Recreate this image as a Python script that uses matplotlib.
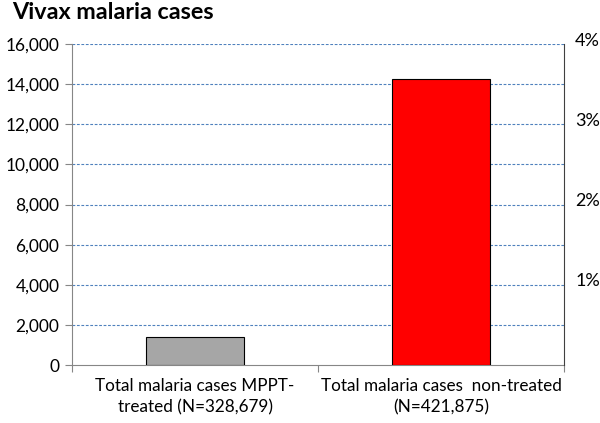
import numpy as np
import matplotlib.pyplot as plt
from matplotlib.ticker import FuncFormatter
import matplotlib.transforms as mtransforms

plt.rcParams['font.family'] = ['Lato', 'DejaVu Sans']

# Data
categories = ["Total malaria cases MPPT-\ntreated (N=328,679)",
              "Total malaria cases  non-treated\n(N=421,875)"]
cases = [1400, 14250]
bar_colors = ["#A6A6A6", "#FF0000"]
left_ticks = [0, 2000, 4000, 6000, 8000, 10000, 12000, 14000, 16000]
right_ticks = [1, 2, 3, 4]

fig = plt.figure(figsize=(6, 4.23), dpi=100)
ax = fig.add_axes([0.12, 0.137, 0.82, 0.759])

x = np.arange(len(categories))
ax.bar(x, cases, width=0.4, color=bar_colors, edgecolor="black", linewidth=0.8, zorder=3)

ax.set_xlim(-0.5, 1.5)
ax.set_ylim(0, 16000)
ax.set_yticks(left_ticks)
ax.yaxis.set_major_formatter(FuncFormatter(lambda v, p: f"{int(v):,}"))
ax.set_xticks([-0.5, 0.5, 1.5])
ax.set_xticklabels([])
ax.set_xticks(x, minor=True)
ax.set_xticklabels(categories, minor=True, fontsize=12.3, linespacing=1.45)
ax.tick_params(axis="x", which="minor", length=0, pad=9)
ax.tick_params(axis="x", which="major", length=5, color="#868686")
ax.tick_params(axis="y", length=5, color="#868686", labelsize=12.5, pad=4)

for v in left_ticks[1:]:
    ax.axhline(v, color="#4F81BD", linestyle=(0, (2.5, 1.5)), linewidth=0.8, zorder=1)

for s in ["top", "right"]:
    ax.spines[s].set_visible(False)
ax.spines["left"].set_color("#868686")
ax.spines["bottom"].set_color("#868686")

# Secondary percentage axis
ax2 = ax.twinx()
ax2.set_ylim(0, 4)
ax2.set_yticks(right_ticks)
ax2.set_yticklabels([f"{t}%" for t in right_ticks], fontsize=13)
ax2.tick_params(axis="y", length=0, pad=8)
offset = mtransforms.ScaledTranslation(0, 3.5 / 72, fig.dpi_scale_trans)
for lab in ax2.get_yticklabels():
    lab.set_transform(lab.get_transform() + offset)
for s in ["top", "left", "bottom"]:
    ax2.spines[s].set_visible(False)
ax2.spines["right"].set_color("#404040")
ax2.spines["right"].set_linewidth(0.8)

fig.text(0.02, 0.945, "Vivax malaria cases", fontsize=16.8, fontweight="bold", ha="left", va="bottom")

fig.savefig("out.png", dpi=100)
